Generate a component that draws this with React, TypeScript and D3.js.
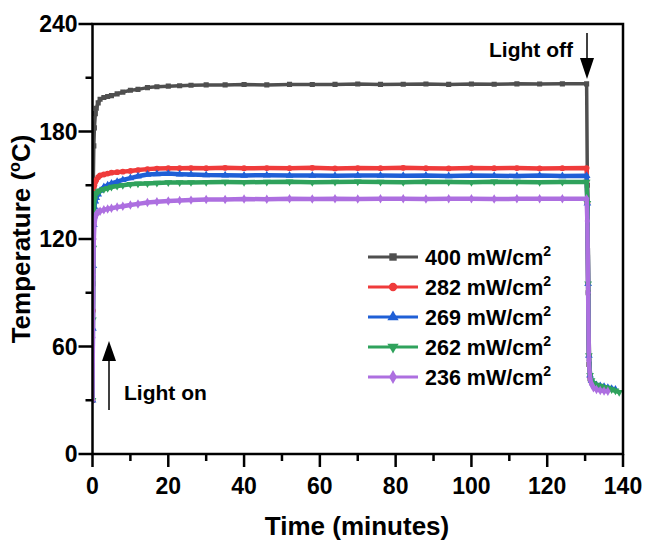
import React from "react";
import * as d3 from "d3";

document.body.style.margin = "0";

// time axis (minutes) shared by all curves; NaN = no reading
const time = [
  0, 0.1, 0.2, 0.35, 0.5, 0.75, 1, 1.5, 2, 3, 4, 5, 6.5, 8, 10, 12, 14.5, 17, 20, 23, 26, 30, 35, 40,
  46, 52, 58, 64, 70, 76, 82, 88, 94, 100, 106, 112, 118, 124, 130.4,
  130.6, 130.8, 131, 131.3, 131.7, 132.2, 133, 134, 135, 136, 137, 138, 139,
];

const t400 = [
  30, 95, 150, 172, 182, 190, 193, 196, 198, 199, 199.5, 200, 201, 202, 203, 203.5, 204.5, 205, 205.3, 205.5, 205.8, 206, 206, 206.2,
  206, 206.3, 206.2, 206.3, 206.5, 206.3, 206.4, 206.5, 206.3, 206.5, 206.4, 206.6, 206.5, 206.6, 206.6,
  150, 90, 50, 42, 40, 39, 38, 37, 36.5, 36, NaN, NaN, NaN,
];
const t282 = [
  30, 80, 120, 142, 150, 152, 153, 154.5, 155.5, 156, 156.5, 157, 157.3, 157.6, 158, 158.5, 159, 159.3, 159.5, 159.5, 159.6, 159.5, 159.7, 159.5,
  159.6, 159.5, 159.7, 159.4, 159.6, 159.5, 159.7, 159.5, 159.4, 159.6, 159.5, 159.6, 159.4, 159.5, 159.6,
  140, 95, 55, 43, 40, 38.5, 37.5, 37, 36.5, 36, NaN, NaN, NaN,
];
const t269 = [
  30, 70, 105, 128, 138, 141, 143, 145, 147, 149, 150, 151, 152, 153, 154, 155, 156, 156.3, 156.5, 156.2, 156, 155.7, 155.6, 155.5,
  155.6, 155.4, 155.5, 155.3, 155.5, 155.4, 155.3, 155.5, 155.2, 155.4, 155.3, 155.2, 155.4, 155.2, 155.3,
  140, 95, 55, 44, 41, 39.5, 38.5, 38, 37.5, 37, 36.5, 36, NaN,
];
const t262 = [
  30, 75, 115, 135, 142, 144.5, 145.5, 146.5, 147, 147.8, 148.3, 149, 149.5, 150, 150.5, 150.8, 151, 151.2, 151.5, 151.5, 151.6, 151.7, 151.8, 151.7,
  151.8, 151.9, 151.7, 151.8, 151.9, 151.8, 151.7, 151.9, 151.8, 151.7, 151.9, 151.8, 151.7, 151.8, 151.8,
  140, 95, 55, 44, 41, 39.5, 38.5, 38, 37.3, 36.8, 36, 35.3, 34.5,
];
const t236 = [
  30, 65, 100, 120, 128, 132, 134, 135, 135.5, 136.3, 136.8, 137.2, 137.8, 138.3, 139, 139.6, 140.4, 140.8, 141.2, 141.5, 141.7, 142, 142.1, 142.3,
  142.2, 142.4, 142.3, 142.5, 142.3, 142.4, 142.5, 142.3, 142.4, 142.5, 142.3, 142.4, 142.5, 142.4, 142.4,
  130, 90, 52, 42, 39, 37, 36, 35.5, 35.2, 35, NaN, NaN, NaN,
];

const labels = ["400", "282", "269", "262", "236"];
const colors = ["#4f4f4f", "#ef3b3b", "#1f5fd6", "#2fa25c", "#ad6fe0"];
const values = [t400, t282, t269, t262, t236];

const xTicks = [0, 20, 40, 60, 80, 100, 120, 140];
const yTicks = [0, 60, 120, 180, 240];

const W = 647;
const H = 546;
const L = 92.5, R = 623, T = 24, B = 454;
const font = "'Liberation Sans', Arial, sans-serif";

function marker(i: number, size: number) {
  const types = [d3.symbolSquare, d3.symbolCircle, d3.symbolTriangle, d3.symbolTriangle, d3.symbolDiamond];
  return d3.symbol().type(types[i]).size(size)() as string;
}

export default function App() {
  const x = d3.scaleLinear().domain([0, 140]).range([L, R]);
  const y = d3.scaleLinear().domain([0, 240]).range([B, T]);

  const line = d3
    .line<number>()
    .defined((d) => !isNaN(d))
    .x((d, i) => x(time[i]))
    .y((d) => y(d));

  const xMinor = d3.range(10, 140, 20);
  const yMinor = d3.range(30, 240, 60);

  return (
    <svg width={W} height={H} style={{ display: "block", background: "#fff" }} fontFamily={font} fontWeight="bold">
      <defs>
        <clipPath id="plot">
          <rect x={L} y={T} width={R - L} height={B - T} />
        </clipPath>
      </defs>

      <g clipPath="url(#plot)">
        {values.map((vals, k) => (
          <g key={k}>
            <path d={line(vals) || ""} fill="none" stroke={colors[k]} strokeWidth={k === 0 ? 3.5 : 4.5} strokeLinejoin="round" />
            {vals.map((v, i) =>
              isNaN(v) ? null : (
                <path
                  key={i}
                  d={marker(k, 26)}
                  transform={`translate(${x(time[i])},${y(v)})${k === 3 ? " rotate(180)" : ""}`}
                  fill={colors[k]}
                />
              )
            )}
          </g>
        ))}
      </g>

      {/* frame */}
      <rect x={L} y={T} width={R - L} height={B - T} fill="none" stroke="#000" strokeWidth={2.5} />

      {/* x ticks */}
      {xTicks.map((t) => (
        <g key={"x" + t}>
          <line x1={x(t)} x2={x(t)} y1={B} y2={B + 13} stroke="#000" strokeWidth={2.5} />
          <text x={x(t)} y={B + 40} textAnchor="middle" fontSize={23}>
            {t}
          </text>
        </g>
      ))}
      {xMinor.map((t) => (
        <line key={"xm" + t} x1={x(t)} x2={x(t)} y1={B} y2={B + 7} stroke="#000" strokeWidth={2.5} />
      ))}

      {/* y ticks */}
      {yTicks.map((t) => (
        <g key={"y" + t}>
          <line x1={L - 14} x2={L} y1={y(t)} y2={y(t)} stroke="#000" strokeWidth={2.5} />
          <text x={L - 15} y={y(t) + 8} textAnchor="end" fontSize={23}>
            {t}
          </text>
        </g>
      ))}
      {yMinor.map((t) => (
        <line key={"ym" + t} x1={L - 7} x2={L} y1={y(t)} y2={y(t)} stroke="#000" strokeWidth={2.5} />
      ))}

      {/* axis titles */}
      <text x={357} y={535} textAnchor="middle" fontSize={26}>
        Time (minutes)
      </text>
      <text transform={`translate(30,${(T + B) / 2}) rotate(-90)`} textAnchor="middle" fontSize={26}>
        Temperature (
        <tspan dy={-10} fontSize={16}>o</tspan>
        <tspan dy={10}>C)</tspan>
      </text>

      {/* legend */}
      {labels.map((lab, k) => {
        const ly = 257 + k * 30;
        return (
          <g key={"lg" + k}>
            <line x1={368} x2={418} y1={ly} y2={ly} stroke={colors[k]} strokeWidth={3} />
            <path d={marker(k, 55)} transform={`translate(393,${ly})${k === 3 ? " rotate(180)" : ""}`} fill={colors[k]} />
            <text x={425} y={ly + 8} fontSize={21.5}>
              {lab} mW/cm
              <tspan dy={-9} fontSize={14}>2</tspan>
            </text>
          </g>
        );
      })}

      {/* annotations */}
      <text x={489} y={57} fontSize={21}>Light off</text>
      <line x1={587} x2={587} y1={33} y2={60} stroke="#000" strokeWidth={1.5} />
      <path d="M580,58 L594,58 L587,79 Z" fill="#000" />

      <text x={124} y={400} fontSize={21}>Light on</text>
      <line x1={109} x2={109} y1={410} y2={358} stroke="#000" strokeWidth={1.5} />
      <path d="M102,361 L116,361 L109,341 Z" fill="#000" />
    </svg>
  );
}
